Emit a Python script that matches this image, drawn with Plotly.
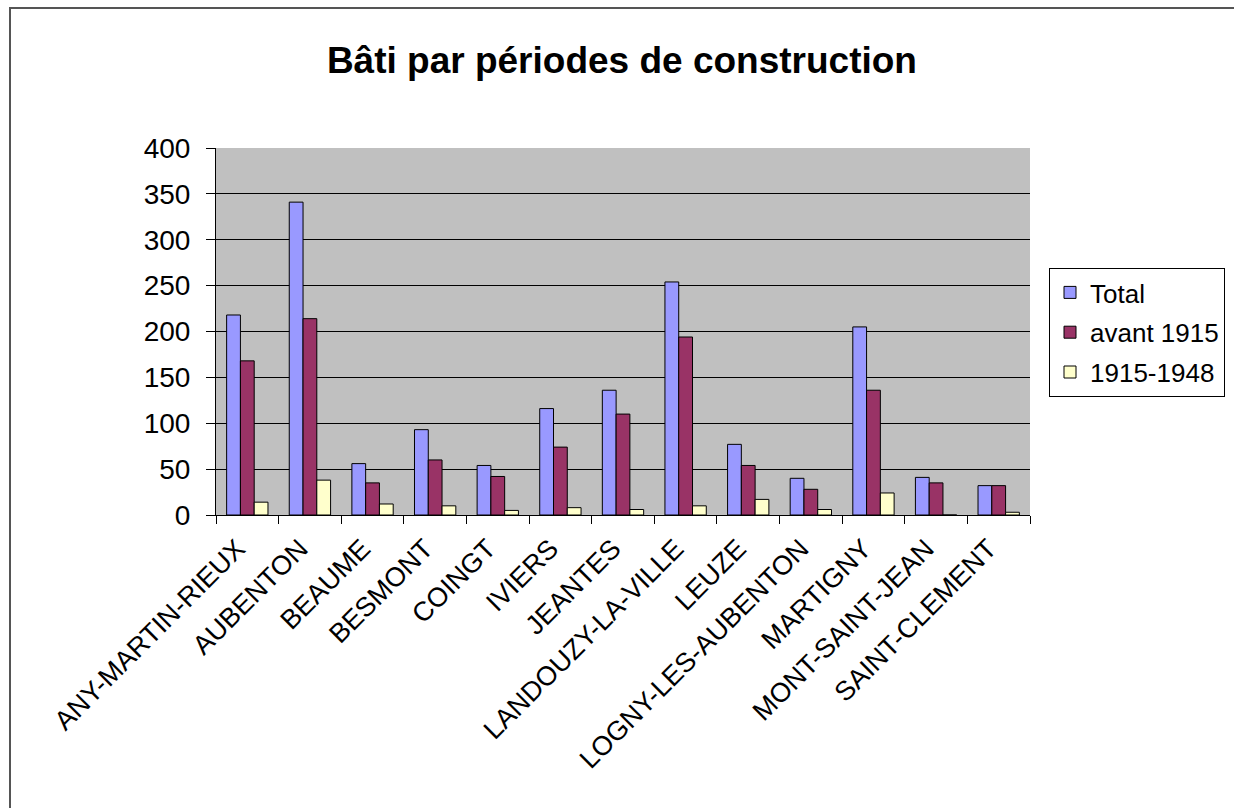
import plotly.graph_objects as go

communes = ["ANY-MARTIN-RIEUX", "AUBENTON", "BEAUME", "BESMONT", "COINGT", "IVIERS",
            "JEANTES", "LANDOUZY-LA-VILLE", "LEUZE", "LOGNY-LES-AUBENTON", "MARTIGNY",
            "MONT-SAINT-JEAN", "SAINT-CLEMENT"]
total = [218, 341, 56, 93, 54, 116, 136, 254, 77, 40, 205, 41, 32]
avant_1915 = [168, 214, 35, 60, 42, 74, 110, 194, 54, 28, 136, 35, 32]
p1915_1948 = [14, 38, 12, 10, 5, 8, 6, 10, 17, 6, 24, 0, 3]

series = [("Total", total, "#9999FF"),
          ("avant 1915", avant_1915, "#993366"),
          ("1915-1948", p1915_1948, "#FFFFCC")]

FONT = "Arial, Liberation Sans, sans-serif"

fig = go.Figure()
for i, (name, vals, col) in enumerate(series):
    fig.add_trace(go.Bar(
        x=communes, y=vals, name=name, legendgroup=f"g{i}",
        marker=dict(color=col, line=dict(color="#000000", width=1)),
    ))

W, H = 1234, 808
L, R, T, B = 216, 1030, 148, 515
pw, ph = R - L, B - T

def px(x):
    return (x - L) / pw

def py(y):
    return (B - y) / ph

fig.update_layout(
    width=W, height=H,
    margin=dict(l=L, r=W - R, t=T, b=H - B, autoexpand=False),
    paper_bgcolor="#FFFFFF",
    plot_bgcolor="#C0C0C0",
    barmode="group", bargap=0.34, bargroupgap=0,
    font=dict(family=FONT, color="#000000", size=24),
    title=dict(text="<b>Bâti par périodes de construction</b>",
               x=0.504, xanchor="center", y=1 - 60 / H, yanchor="middle",
               font=dict(size=37, family=FONT, color="#000000")),
    legend=dict(x=px(1049), xanchor="left", y=py(268), yanchor="top",
                bgcolor="#FFFFFF", bordercolor="#000000", borderwidth=1,
                font=dict(size=26, family=FONT), traceorder="grouped",
                tracegroupgap=3, itemwidth=30),
    showlegend=True,
    xaxis=dict(type="category", tickangle=-45, ticks="outside", ticklen=8,
               tickcolor="#000000", tickson="boundaries", showgrid=False,
               showline=True, linecolor="#000000", linewidth=1,
               ticklabelshift=-10, ticklabelstandoff=6,
               tickfont=dict(size=27, family=FONT), automargin=False),
    yaxis=dict(range=[0, 400], dtick=50, ticks="outside", ticklen=9,
               tickcolor="#000000", showgrid=True, gridcolor="#000000", gridwidth=1,
               showline=True, linecolor="#000000", linewidth=1, ticklabelstandoff=10,
               zeroline=False, tickfont=dict(size=28, family=FONT), automargin=False),
    shapes=[dict(type="rect", xref="paper", yref="paper",
                 x0=px(10), x1=px(1260), y0=py(840), y1=py(8),
                 line=dict(color="#555555", width=2), fillcolor="rgba(0,0,0,0)",
                 layer="below")],
)

fig.write_html("out.html", config={"displayModeBar": False},
               post_script="document.body.style.margin='0';document.body.style.overflow='hidden';")
